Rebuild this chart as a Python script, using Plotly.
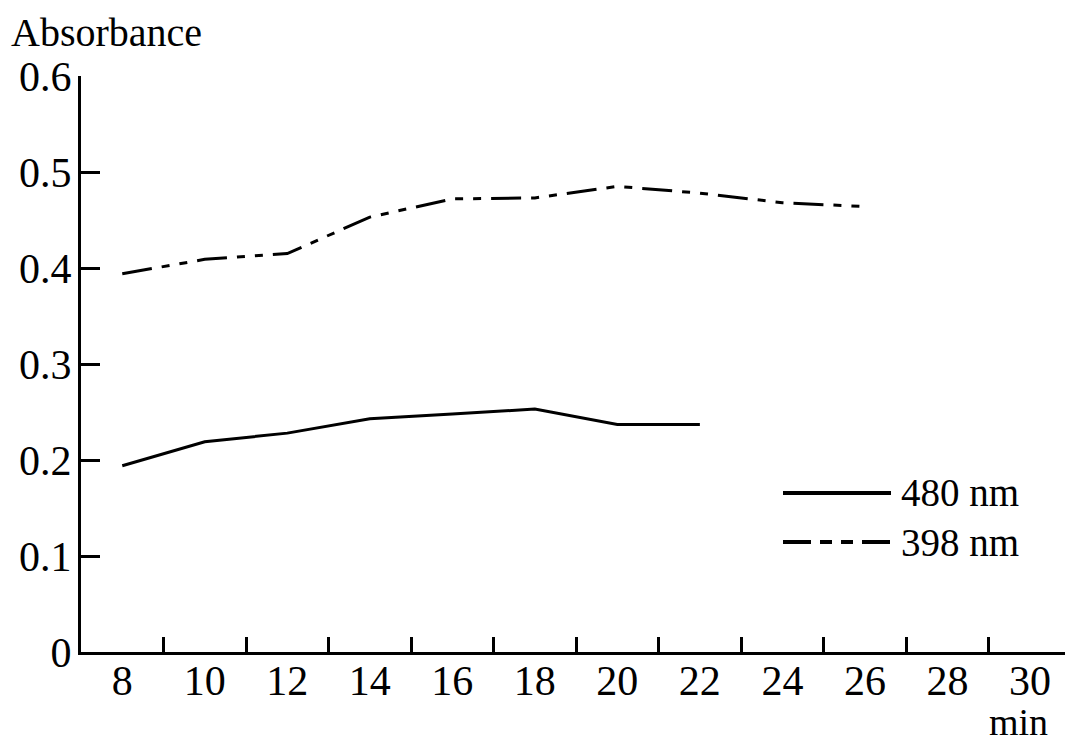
import plotly.graph_objects as go

# ---- data ----
time_480 = [8, 10, 12, 14, 16, 18, 20, 22]
abs_480 = [0.194, 0.219, 0.228, 0.243, 0.248, 0.253, 0.237, 0.237]

time_398 = [8, 10, 12, 14, 16, 18, 20, 22, 24, 26]
abs_398 = [0.394, 0.409, 0.415, 0.453, 0.472, 0.473, 0.485, 0.478, 0.468, 0.464]

x_label_vals = [8, 10, 12, 14, 16, 18, 20, 22, 24, 26, 28, 30]
x_tick_marks = [9, 11, 13, 15, 17, 19, 21, 23, 25, 27, 29]
y_tick_vals = [0, 0.1, 0.2, 0.3, 0.4, 0.5, 0.6]
y_tick_text = ["0", "0.1", "0.2", "0.3", "0.4", "0.5", "0.6"]

series_names = ["480 nm", "398 nm"]

FONT = "Liberation Serif"
DASH = "30px,10px,8px,10px,8px,10px"

fig = go.Figure()
fig.add_trace(go.Scatter(x=time_480, y=abs_480, mode="lines",
                         line=dict(color="black", width=3),
                         name=series_names[0], showlegend=False))
fig.add_trace(go.Scatter(x=time_398, y=abs_398, mode="lines",
                         line=dict(color="black", width=3, dash=DASH),
                         name=series_names[1], showlegend=False))

W, H = 1065, 744
ml, mr, mt, mb = 81, 0, 76, 92
pw = W - ml - mr
ph = H - mt - mb

def px_x(p):
    return (p - ml) / pw

def px_y(p):
    return (H - mb - p) / ph

# manual legend (long sample lines as in the reference)
legend_rows = [(493, "solid"), (542, "28px,9px,12px,9px,12px,9px")]
for (yy, dash), name in zip(legend_rows, series_names):
    fig.add_shape(type="line", xref="paper", yref="paper",
                  x0=px_x(783), x1=px_x(891), y0=px_y(yy), y1=px_y(yy),
                  line=dict(color="black", width=4, dash=dash))
    fig.add_annotation(xref="paper", yref="paper", x=px_x(899), y=px_y(yy),
                       xanchor="left", yanchor="middle", showarrow=False,
                       text=name, font=dict(family=FONT, size=39, color="black"))

fig.add_annotation(xref="paper", yref="paper", x=px_x(9), y=px_y(32),
                   xanchor="left", yanchor="middle", showarrow=False,
                   text="Absorbance", font=dict(family=FONT, size=40, color="black"))
fig.add_annotation(xref="paper", yref="paper", x=px_x(1018), y=px_y(744),
                   xanchor="center", yanchor="bottom", showarrow=False,
                   borderpad=0,
                   text="min", font=dict(family=FONT, size=38, color="black"))

fig.update_layout(
    width=W, height=H,
    margin=dict(l=ml, r=mr, t=mt, b=mb, pad=0),
    paper_bgcolor="white", plot_bgcolor="white",
    font=dict(family=FONT, size=42, color="black"),
    xaxis=dict(range=[7, 30.85], showgrid=False, zeroline=False,
               showline=True, linecolor="black", linewidth=3,
               tickmode="array", tickvals=x_label_vals,
               ticktext=[str(v) for v in x_label_vals],
               ticks="", ticklabelstandoff=-10,
               minor=dict(tickmode="array", tickvals=x_tick_marks,
                          ticks="inside", ticklen=15, tickwidth=3,
                          tickcolor="black", showgrid=False),
               tickfont=dict(family=FONT, size=42, color="black")),
    yaxis=dict(range=[0, 0.6], showgrid=False, zeroline=False,
               showline=True, linecolor="black", linewidth=3,
               tickmode="array", tickvals=y_tick_vals, ticktext=y_tick_text,
               ticks="inside", ticklen=19, tickwidth=3, tickcolor="black",
               ticklabelstandoff=-2,
               tickfont=dict(family=FONT, size=42, color="black")),
)

fig.write_html("out.html",
               config={"displayModeBar": False},
               post_script="document.body.style.margin='0px';document.body.style.overflow='hidden';")
